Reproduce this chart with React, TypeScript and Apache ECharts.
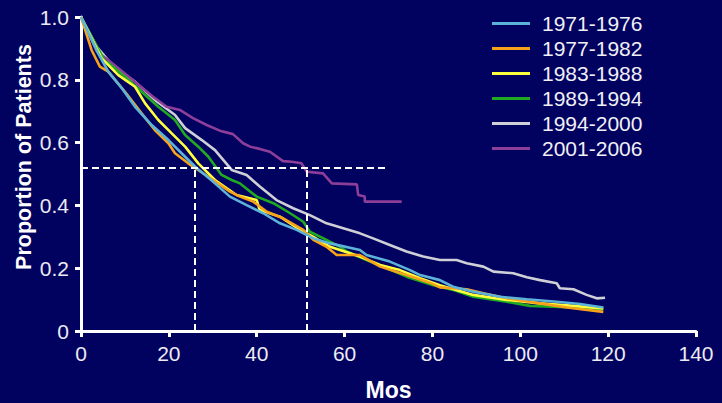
import React, { useEffect, useRef } from "react";
import * as echarts from "echarts";

const seriesNames = ["1971-1976", "1977-1982", "1983-1988", "1989-1994", "1994-2000", "2001-2006"];
const seriesColors = ["#5cb3d9", "#f7a21b", "#ffff3c", "#1faa22", "#cfcfd6", "#8d3e98"];

const s1971: [number, number][] = [
  [0, 1.0], [3.9, 0.884], [6.2, 0.826], [9.3, 0.773], [12.3, 0.714], [16.1, 0.656], [19.9, 0.608],
  [22.9, 0.566], [26, 0.523], [30.1, 0.475], [33.9, 0.428], [37.7, 0.401], [41.5, 0.375],
  [45.3, 0.343], [49.1, 0.322], [52.9, 0.295], [56.7, 0.279], [63.5, 0.258], [65, 0.242],
  [70.3, 0.221], [74.9, 0.194], [77.2, 0.178], [81.7, 0.162], [84.7, 0.141], [89.3, 0.125],
  [95.4, 0.109], [101.5, 0.101], [108.3, 0.093], [113.6, 0.086], [118.9, 0.075],
];
const s1977: [number, number][] = [
  [0, 1.0], [2.4, 0.895], [4.3, 0.842], [6.2, 0.826], [10, 0.762], [13.8, 0.693], [16.8, 0.64],
  [19.9, 0.598], [21.4, 0.566], [24.4, 0.534], [30.1, 0.481], [33.9, 0.444], [36.2, 0.428],
  [39.2, 0.412], [42.3, 0.38], [46, 0.359], [50.6, 0.322], [52.9, 0.29], [55.9, 0.268],
  [58.2, 0.242], [63.5, 0.242], [68.1, 0.205], [74.1, 0.178], [79.4, 0.154], [81.7, 0.139],
  [87.8, 0.133], [91.6, 0.12], [96.9, 0.104], [104.5, 0.088], [110.6, 0.075], [118.9, 0.061],
];
const s1983: [number, number][] = [
  [0, 1.0], [4.7, 0.868], [8.5, 0.815], [12.3, 0.778], [14.6, 0.725], [17.6, 0.672], [20.6, 0.63],
  [23.7, 0.587], [26.7, 0.534], [30.5, 0.481], [35.4, 0.433], [40, 0.417], [40.7, 0.385],
  [45.3, 0.364], [49.9, 0.322], [52.9, 0.3], [56.7, 0.268], [63.5, 0.237], [68.1, 0.21],
  [72.6, 0.194], [77.2, 0.168], [81.7, 0.146], [89.3, 0.115], [96.9, 0.099], [104.5, 0.088],
  [112.1, 0.08], [118.9, 0.072],
];
const s1989: [number, number][] = [
  [0, 1.0], [5.5, 0.858], [6.2, 0.854], [10, 0.81], [13.8, 0.762], [17.6, 0.714], [21.4, 0.672],
  [23.7, 0.624], [26.7, 0.587], [29, 0.555], [32, 0.497], [34.3, 0.481], [36.2, 0.47], [40, 0.428],
  [43.8, 0.407], [47.6, 0.375], [50.6, 0.348], [52.1, 0.316], [55.2, 0.295], [59, 0.268],
  [60.5, 0.253], [65, 0.226], [69.6, 0.2], [74.1, 0.173], [80.2, 0.146], [84.7, 0.131],
  [89.3, 0.109], [96.9, 0.093], [102.2, 0.08], [112.1, 0.075], [118.9, 0.069],
];
const s1994: [number, number][] = [
  [0, 1.0], [3.6, 0.905], [7.7, 0.837], [12.3, 0.794], [16.8, 0.736], [21.4, 0.688], [23.7, 0.646],
  [27.5, 0.608], [30.5, 0.576], [34.3, 0.513], [37.7, 0.497], [40.7, 0.46], [44.5, 0.417],
  [48.3, 0.391], [52.1, 0.369], [55.9, 0.343], [59.7, 0.327], [63.5, 0.311], [66.5, 0.295],
  [70.3, 0.274], [74.1, 0.253], [77.9, 0.237], [81.7, 0.226], [85.5, 0.226], [87.8, 0.216],
  [91.6, 0.205], [93.9, 0.189], [98.4, 0.184], [101.5, 0.171], [104.5, 0.162], [108.3, 0.152],
  [109, 0.136], [112.1, 0.133], [115.1, 0.115], [117.4, 0.104], [119.3, 0.106],
];
const s2001: [number, number][] = [
  [0, 1.0], [3.6, 0.89], [6.6, 0.858], [10.4, 0.815], [16.4, 0.746], [19.5, 0.714], [22.5, 0.704],
  [25.5, 0.678], [28.6, 0.656], [31.6, 0.638], [34.6, 0.627], [36.9, 0.598], [38.5, 0.587],
  [40.7, 0.58], [43, 0.571], [46, 0.541], [48, 0.539], [50.2, 0.534], [51.4, 0.507], [55.1, 0.502],
  [57.1, 0.47], [62.8, 0.467], [63.1, 0.433], [64.6, 0.428], [64.6, 0.412], [73, 0.412],
];
const seriesData = [s1971, s1977, s1983, s1989, s1994, s2001];
const drawOrder = [4, 5, 3, 2, 1, 0];

const medianLevel = 0.52;
const medianLineEnd = 70;
const medianTimes = [26, 51.4];

const xTicks = [0, 20, 40, 60, 80, 100, 120, 140];
const yTickLabels = ["0", "0.2", "0.4", "0.6", "0.8", "1.0"];

export default function App() {
  const ref = useRef<HTMLDivElement>(null);
  useEffect(() => {
    document.body.style.margin = "0";
    const chart = echarts.init(ref.current!, null, { renderer: "svg" });
    const font = "'Liberation Sans', Arial, sans-serif";
    const series: any[] = drawOrder.map((i) => ({
      name: seriesNames[i],
      type: "line",
      data: seriesData[i],
      showSymbol: false,
      symbol: "none",
      lineStyle: { color: seriesColors[i], width: 2.6 },
      itemStyle: { color: seriesColors[i] },
      z: 3,
    }));
    series.push({
      name: "median",
      type: "line",
      data: [],
      z: 2,
      markLine: {
        silent: true,
        symbol: "none",
        label: { show: false },
        lineStyle: { color: "#ffffff", type: [7, 4], width: 2 },
        data: [
          [{ coord: [0, medianLevel] }, { coord: [medianLineEnd, medianLevel] }],
          ...medianTimes.map((t) => [{ coord: [t, 0] }, { coord: [t, medianLevel] }]),
        ],
      },
    });
    chart.setOption({
      animation: false,
      backgroundColor: "#010160",
      textStyle: { fontFamily: font },
      grid: { left: 81, right: 26, top: 17, bottom: 72, containLabel: false, outerBoundsMode: "none" },
      legend: {
        data: seriesNames,
        orient: "vertical",
        left: 492,
        top: 13,
        padding: 0,
        icon: "rect",
        itemWidth: 38,
        itemHeight: 3,
        itemGap: 4,
        textStyle: { color: "#f0f0f5", fontSize: 21, fontFamily: font, padding: [0, 0, 0, 7] },
      },
      xAxis: {
        type: "value",
        min: 0,
        max: 140,
        interval: 20,
        name: "Mos",
        nameLocation: "middle",
        nameGap: 47,
        nameTextStyle: { color: "#ffffff", fontSize: 23, fontWeight: "bold", fontFamily: font },
        axisLine: { show: true, lineStyle: { color: "#ffffff", width: 3 } },
        axisTick: { show: true, length: 6, lineStyle: { color: "#ffffff", width: 3 } },
        axisLabel: {
          color: "#ececf2",
          fontSize: 21,
          margin: 12,
          formatter: (v: number) => (xTicks.includes(v) ? String(v) : ""),
        },
        splitLine: { show: false },
      },
      yAxis: {
        type: "value",
        min: 0,
        max: 1,
        interval: 0.2,
        axisLine: { show: true, lineStyle: { color: "#ffffff", width: 3 } },
        axisTick: { show: true, length: 6, lineStyle: { color: "#ffffff", width: 3 } },
        axisLabel: {
          color: "#ececf2",
          fontSize: 21,
          margin: 12,
          formatter: (v: number) => yTickLabels[Math.round(v * 5)] ?? "",
        },
        splitLine: { show: false },
      },
      graphic: [
        {
          type: "text",
          x: 24,
          y: 157,
          rotation: Math.PI / 2,
          style: {
            text: "Proportion of Patients",
            fill: "#ffffff",
            font: `bold 21.5px ${font}`,
            textAlign: "center",
            textVerticalAlign: "middle",
          },
        },
      ],
      series,
    });
    return () => chart.dispose();
  }, []);
  return <div ref={ref} style={{ position: "fixed", left: 0, top: 0, width: 722, height: 403 }} />;
}
